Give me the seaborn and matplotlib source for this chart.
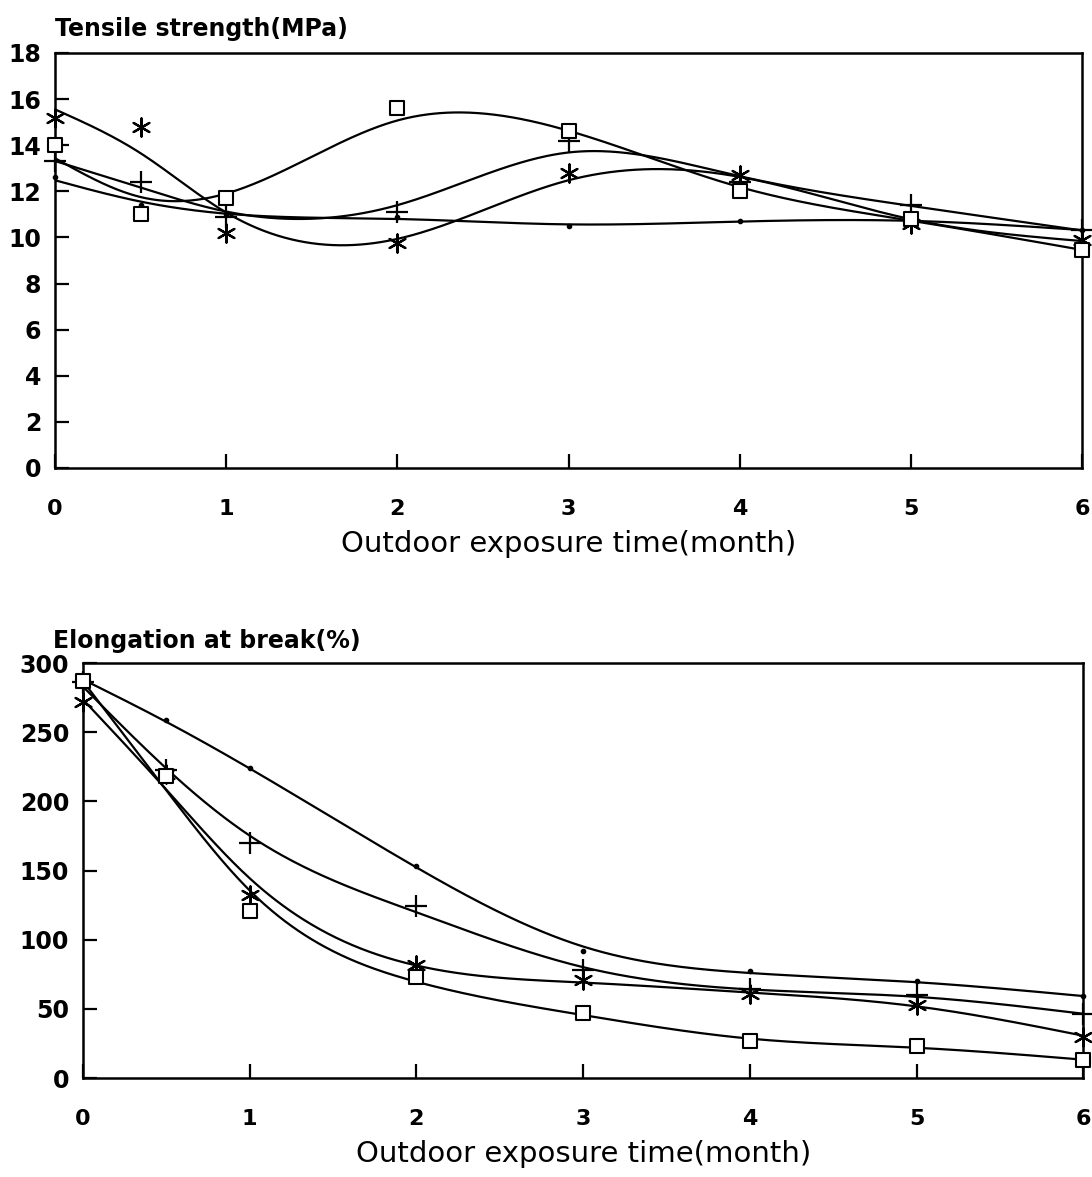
import numpy as np
import pandas as pd
import matplotlib
matplotlib.use("Agg")
import matplotlib.pyplot as plt
import seaborn as sns

# ---------------- data ----------------
months = [0, 0.5, 1, 2, 3, 4, 5, 6]

ts_dot = [12.6, 11.4, 11.0, 10.9, 10.5, 10.7, 10.75, 10.3]
ts_plus = [13.3, 12.4, 10.9, 11.1, 14.2, 12.4, 11.4, 10.3]
ts_star = [15.2, 14.8, 10.2, 9.75, 12.8, 12.7, 10.6, 9.9]
ts_square = [14.0, 11.0, 11.7, 15.6, 14.6, 12.0, 10.8, 9.45]

el_dot = [287, 259, 224, 153, 92, 77, 70, 59]
el_plus = [286, 223, 170, 124, 78, 64, 60, 46]
el_star = [272, 220, 132, 82, 71, 61, 53, 30]
el_square = [287, 218, 121, 73, 47, 27, 23, 13]

ts_ticks = [0, 2, 4, 6, 8, 10, 12, 14, 16, 18]
el_ticks = [0, 50, 100, 150, 200, 250, 300]
x_ticks = [0, 1, 2, 3, 4, 5, 6]

top_title = "Tensile strength(MPa)"
bottom_title = "Elongation at break(%)"
xlabel = "Outdoor exposure time(month)"

# ---------------- style ----------------
sns.set_theme(style="ticks")
plt.rcParams['font.family'] = ['DejaVu Sans']
plt.rcParams['text.color'] = 'black'
plt.rcParams['axes.labelcolor'] = 'black'

fig = plt.figure(figsize=(10.92, 11.77), dpi=100, facecolor="white")
ax1 = fig.add_axes([0.0504, 0.6024, 0.9406, 0.3526])
ax2 = fig.add_axes([0.0760, 0.0841, 0.9160, 0.3526])

markers = {"dot": "o", "plus": "+", "star": (6, 2, 0), "square": "s"}
msize = {"dot": 6, "plus": 230, "star": 170, "square": 95}


def smooth_curve(xs, ys, lam, h=0.01):
    """Penalised (smoothing-spline like) curve on a fine grid."""
    grid = np.round(np.arange(0, 6 + h / 2, h), 6)
    n = len(grid)
    W = np.zeros(n)
    wy = np.zeros(n)
    for x, y in zip(xs, ys):
        i = int(round(x / h))
        W[i] += 1.0
        wy[i] += y
    D = np.diff(np.eye(n), 2, axis=0)
    A = np.diag(W) + (lam / h ** 3) * (D.T @ D)
    f = np.linalg.solve(A, wy)
    return grid, f


def draw(ax, series, lam):
    xs = np.array(months, dtype=float)
    for name, vals in series.items():
        gx, gy = smooth_curve(xs, np.array(vals, dtype=float), lam)
        smooth = pd.DataFrame({"x": gx, "y": gy})
        sns.lineplot(data=smooth, x="x", y="y", ax=ax, color="black",
                     linewidth=1.6, estimator=None, sort=False)
        pts = pd.DataFrame({"x": xs, "y": vals})
        if name == "square":
            sns.scatterplot(data=pts, x="x", y="y", ax=ax, marker="s",
                            s=msize[name], facecolor="white",
                            edgecolor="black", linewidth=1.5, zorder=5,
                            clip_on=False)
        else:
            sns.scatterplot(data=pts, x="x", y="y", ax=ax,
                            marker=markers[name], s=msize[name],
                            color="black", edgecolor="black",
                            linewidth=1.6, zorder=5, clip_on=False)


draw(ax1, {"dot": ts_dot, "plus": ts_plus, "star": ts_star,
           "square": ts_square}, 0.03)
draw(ax2, {"dot": el_dot, "plus": el_plus, "star": el_star,
           "square": el_square}, 0.035)

for ax, yt, ylim in [(ax1, ts_ticks, (0, 18)), (ax2, el_ticks, (0, 300))]:
    ax.set_xlim(0, 6)
    ax.set_ylim(*ylim)
    ax.set_xticks(x_ticks)
    ax.set_yticks(yt)
    ax.set_xticklabels([str(v) for v in x_ticks], fontsize=16, fontweight="bold")
    ax.set_yticklabels([str(v) for v in yt], fontsize=17, fontweight="bold")
    ax.tick_params(axis="both", direction="in", length=10, width=1.6,
                   color="black", labelcolor="black")
    ax.tick_params(axis="x", pad=22)
    ax.tick_params(axis="y", pad=10)
    for sp in ax.spines.values():
        sp.set_linewidth(1.8)
        sp.set_color("black")
    ax.set_facecolor("white")
    ax.set_ylabel("")
    ax.set_xlabel(xlabel, fontsize=21, labelpad=8, color="black")

ax1.text(0.0, 1.03, top_title, transform=ax1.transAxes, fontsize=17,
         fontweight="bold", ha="left", va="bottom", color="black")
ax2.text(-0.03, 1.025, bottom_title, transform=ax2.transAxes, fontsize=17,
         fontweight="bold", ha="left", va="bottom", color="black")

fig.savefig("out.png", dpi=100, facecolor="white")
